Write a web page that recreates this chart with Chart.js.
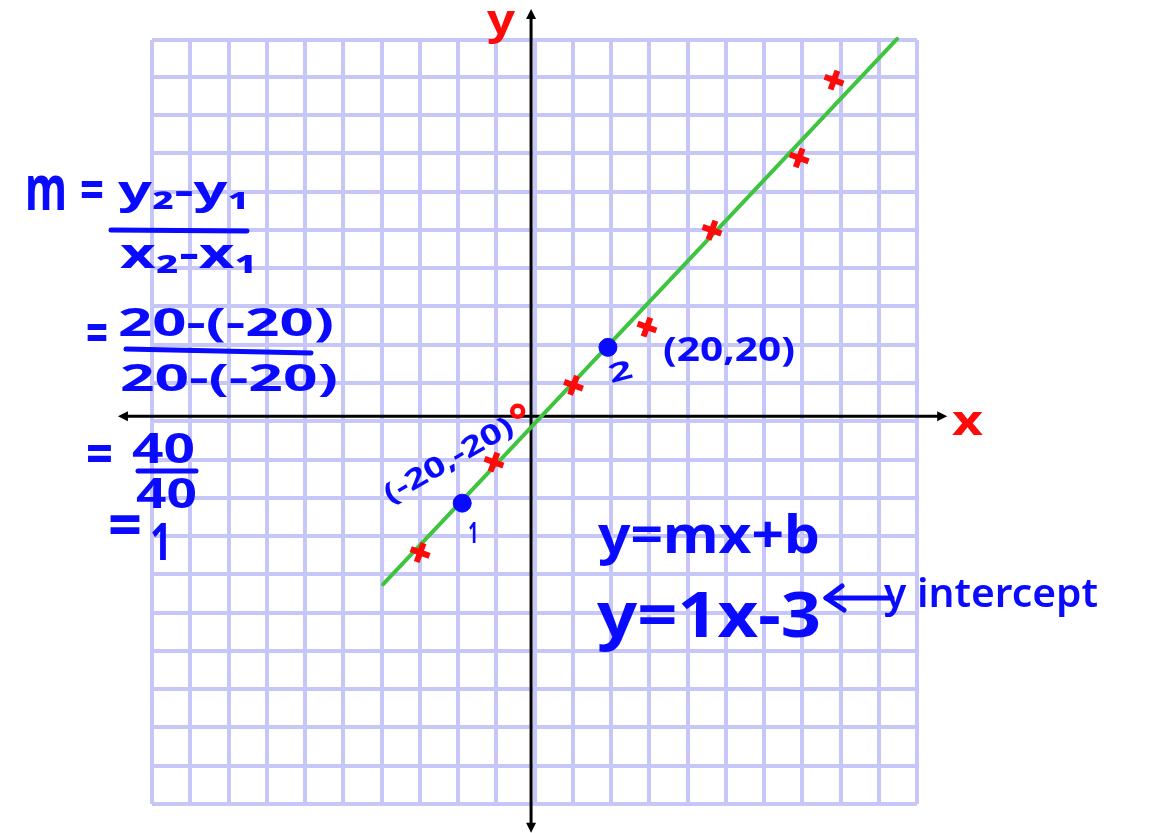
<!DOCTYPE html>
<html>
<head>
<meta charset="utf-8">
<script src="https://cdn.jsdelivr.net/npm/chart.js@4.4.0/dist/chart.umd.min.js"></script>
<style>
  html, body { margin: 0; padding: 0; background: #ffffff; }
  #c { display: block; }
</style>
</head>
<body>
<canvas id="c" width="1160" height="833"></canvas>
<script>
// ---- data (in graph units, 10 units per grid square) ----
const xMin = -99.1, xMax = 100.9;
const yMin = -101.3, yMax = 98.3;
const gridXTicks = [-99.1,-89.1,-79.1,-69.1,-59.1,-49.1,-39.1,-29.1,-19.1,-9.1,0.9,10.9,20.9,30.9,40.9,50.9,60.9,70.9,80.9,90.9,100.9];
const gridYTicks = [-101.3,-91.3,-81.3,-71.3,-61.3,-51.3,-41.3,-31.3,-21.3,-11.3,-1.3,8.7,18.7,28.7,38.7,48.7,58.7,68.7,78.7,88.7,98.3];

const lineX = [-38.7, 95.7];          // green line y = x - 3 (as drawn)
const lineY = [-43.9, 98.6];

const crossX = [-29.0, -9.7, 11.1, 30.3, 47.3, 70.1, 79.2];   // red x marks
const crossY = [-35.6, -12.0, 8.1, 23.3, 48.6, 67.5, 87.8];

const pointX = [-18.0, 20.1];          // labelled points 1 and 2
const pointY = [-22.7, 18.0];
const pointNames = ['1', '2'];

const interceptX = [-3.5];             // small red circle
const interceptY = [1.3];

const xAxisX = [-106.0, 107.0];
const yAxisY = [-107.0, 104.5];
const arrowTipX = [-108.0, 108.8, 0, 0];
const arrowTipY = [0, 0, 106.4, -108.8];

const BLUE = '#0a0aff', RED = '#ff0a0a', GREEN = '#3ec43e';

function pts(xs, ys) { return xs.map((x, i) => ({ x: x, y: ys[i] })); }

function fitText(ctx, str, x, baseline, size, width, color, weight, rot) {
  ctx.save();
  ctx.font = (weight || 'bold') + ' ' + size + "px 'Noto Sans'";
  const w = ctx.measureText(str).width;
  ctx.translate(x, baseline);
  if (rot) ctx.rotate(rot * Math.PI / 180);
  ctx.scale(width / w, 1);
  ctx.fillStyle = color;
  ctx.textBaseline = 'alphabetic';
  ctx.fillText(str, 0, 0);
  ctx.restore();
}
function stroke(ctx, pts, color, w) {
  ctx.save();
  ctx.strokeStyle = color; ctx.lineWidth = w || 5; ctx.lineCap = 'round'; ctx.lineJoin = 'round';
  ctx.beginPath(); ctx.moveTo(pts[0][0], pts[0][1]);
  for (let i = 1; i < pts.length; i++) ctx.lineTo(pts[i][0], pts[i][1]);
  ctx.stroke();
  ctx.restore();
}

// arrowheads at the axis tips (drawn through the scales)
const arrows = {
  id: 'arrows',
  afterDatasetsDraw(chart) {
    const ctx = chart.ctx, xs = chart.scales.x, ys = chart.scales.y;
    const ox = xs.getPixelForValue(0), oy = ys.getPixelForValue(0);
    ctx.save();
    ctx.fillStyle = '#000000';
    arrowTipX.forEach((tx, i) => {
      const px = xs.getPixelForValue(tx), py = ys.getPixelForValue(arrowTipY[i]);
      let dx = px - ox, dy = py - oy; const L = Math.hypot(dx, dy); dx /= L; dy /= L;
      const back = 10, half = 5;
      ctx.beginPath();
      ctx.moveTo(px, py);
      ctx.lineTo(px - dx * back - dy * half, py - dy * back + dx * half);
      ctx.lineTo(px - dx * back + dy * half, py - dy * back - dx * half);
      ctx.closePath();
      ctx.fill();
    });
    ctx.restore();
  }
};

const notes = {
  id: 'notes',
  afterDraw(chart) {
    const ctx = chart.ctx;
    const xs = chart.scales.x, ys = chart.scales.y;
    // axis letters
    fitText(ctx, 'y', 487, 34, 42, 28, RED);
    fitText(ctx, 'x', 952, 435, 42, 31, RED);
    // slope formula
    fitText(ctx, 'm', 25, 210, 62, 42, BLUE);
    fitText(ctx, '=', 80, 209, 56, 24, BLUE);
    fitText(ctx, 'y\u2082-y\u2081', 118, 204, 40, 132, BLUE);
    stroke(ctx, [[111, 230], [247, 231]], BLUE);
    fitText(ctx, 'x\u2082-x\u2081', 120, 268, 42, 138, BLUE);
    fitText(ctx, '=', 86, 352, 56, 22, BLUE);
    fitText(ctx, '20-(-20)', 118, 336, 40, 216, BLUE);
    stroke(ctx, [[126, 349], [311, 353]], BLUE);
    fitText(ctx, '20-(-20)', 120, 391, 38, 218, BLUE);
    fitText(ctx, '=', 86, 474, 58, 27, BLUE);
    fitText(ctx, '40', 132, 463, 42, 63, BLUE);
    stroke(ctx, [[138, 471], [196, 471]], BLUE);
    fitText(ctx, '40', 136, 508, 42, 61, BLUE);
    fitText(ctx, '=', 108, 547, 62, 34, BLUE);
    fitText(ctx, '1', 150, 560, 52, 22, BLUE);
    // equations
    fitText(ctx, 'y=mx+b', 598, 553, 52, 222, BLUE);
    fitText(ctx, 'y=1x-3', 597, 637, 62, 224, BLUE);
    stroke(ctx, [[892, 598], [826, 598]], BLUE, 5);
    stroke(ctx, [[842, 586], [826, 598], [844, 610]], BLUE, 5);
    fitText(ctx, 'y intercept', 884, 607, 40, 214, BLUE, '600');
    // point labels (anchored to the data points)
    const p2x = xs.getPixelForValue(pointX[1]), p2y = ys.getPixelForValue(pointY[1]);
    fitText(ctx, '(20,20)', p2x + 55, p2y + 14, 34, 132, BLUE);
    fitText(ctx, pointNames[1], p2x + 3, p2y + 36, 26, 24, BLUE, 'bold', -15);
    const p1x = xs.getPixelForValue(pointX[0]), p1y = ys.getPixelForValue(pointY[0]);
    fitText(ctx, '(-20,-20)', p1x - 72, p1y + 1, 28, 145, BLUE, 'bold', -30);
    fitText(ctx, pointNames[0], p1x + 6, p1y + 40, 28, 10, BLUE);
  }
};

new Chart(document.getElementById('c'), {
  type: 'scatter',
  data: {
    datasets: [
      { data: pts(crossX, crossY), pointStyle: 'cross', pointRotation: 20, pointRadius: 10,
        borderColor: RED, pointBorderWidth: 6, showLine: false, clip: false },
      { data: pts(pointX, pointY), pointStyle: 'circle', pointRadius: 9,
        backgroundColor: BLUE, borderColor: BLUE, pointBorderWidth: 1, showLine: false, clip: false },
      { data: pts(interceptX, interceptY), pointStyle: 'circle', pointRadius: 5.5,
        backgroundColor: '#ffffff', borderColor: RED, pointBorderWidth: 4.5, showLine: false, clip: false },
      { data: pts(lineX, lineY), showLine: true, borderColor: GREEN, borderWidth: 4,
        borderCapStyle: 'round', pointRadius: 0, clip: false },
      { data: pts(xAxisX, [0, 0]), showLine: true, borderColor: '#000000', borderWidth: 3,
        pointRadius: 0, clip: false },
      { data: pts([0, 0], yAxisY), showLine: true, borderColor: '#000000', borderWidth: 3,
        pointRadius: 0, clip: false }
    ]
  },
  options: {
    responsive: false,
    animation: false,
    devicePixelRatio: 1,
    events: [],
    layout: { padding: { left: 152, right: 243, top: 40, bottom: 29 } },
    plugins: { legend: { display: false }, tooltip: { enabled: false } },
    scales: {
      x: {
        type: 'linear', min: xMin, max: xMax,
        afterBuildTicks: s => { s.ticks = gridXTicks.map(v => ({ value: v })); },
        ticks: { display: false },
        border: { display: false },
        grid: { color: '#c6c6f8', lineWidth: 4, drawTicks: false }
      },
      y: {
        type: 'linear', min: yMin, max: yMax,
        afterBuildTicks: s => { s.ticks = gridYTicks.map(v => ({ value: v })); },
        ticks: { display: false },
        border: { display: false },
        grid: { color: '#c6c6f8', lineWidth: 4, drawTicks: false }
      }
    }
  },
  plugins: [arrows, notes]
});
</script>
</body>
</html>
